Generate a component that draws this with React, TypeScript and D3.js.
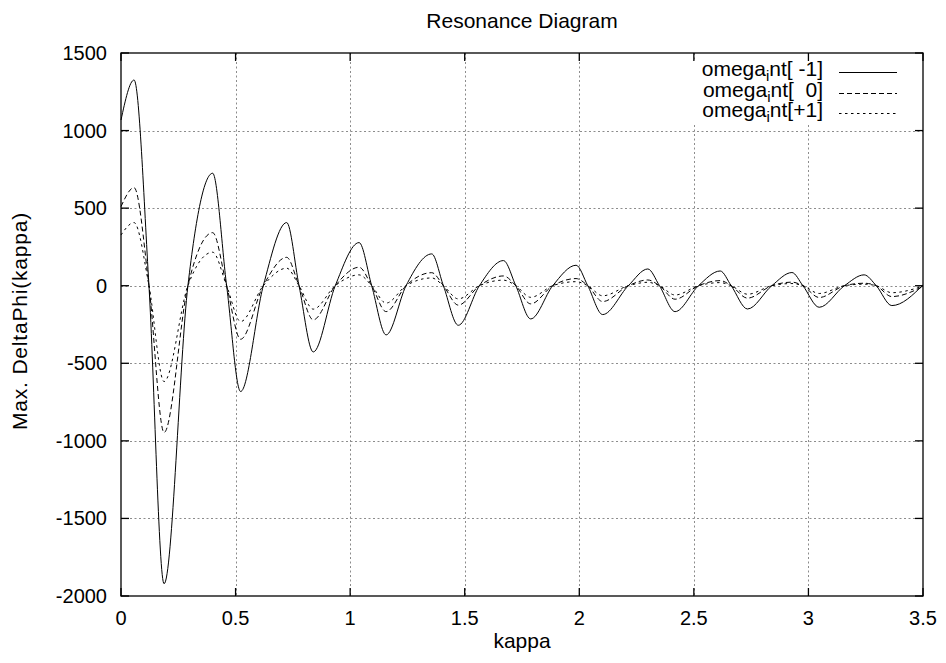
import React, { Component } from "react";
import * as d3 from "d3";

// kappa positions (extrema and zero crossings)
const kappa = [
  0, 0.057, 0.122, 0.188, 0.292, 0.4, 0.461, 0.522, 0.621, 0.723, 0.777, 0.839,
  0.935, 1.039, 1.094, 1.157, 1.244, 1.356, 1.407, 1.472, 1.564, 1.669, 1.723,
  1.788, 1.884, 1.986, 2.037, 2.102, 2.214, 2.299, 2.35, 2.418, 2.52, 2.615,
  2.663, 2.734, 2.84, 2.928, 2.976, 3.047, 3.157, 3.243, 3.296, 3.364, 3.5,
];

const omegaMinus1 = [
  1068, 1326, 0, -1921, 0, 725, 0, -682, 0, 407, 0, -427, 0, 278, 0, -317, 0,
  205, 0, -255, 0, 162, 0, -214, 0, 132, 0, -186, 0, 108, 0, -167, 0, 95, 0,
  -150, 0, 85, 0, -139, 0, 70, 0, -128, 5,
];

const omegaZero = [
  510, 632, 0, -946, 0, 342, 0, -345, 0, 183, 0, -220, 0, 119, 0, -167, 0, 84,
  0, -125, 0, 63, 0, -117, 0, 46, 0, -102, 0, 37, 0, -87, 0, 33, 0, -80, 0, 23,
  0, -76, 0, 16, 0, -70, -5,
];

const omegaPlus1 = [
  327, 407, 0, -618, 0, 216, 0, -231, 0, 113, 0, -151, 0, 70, 0, -112, 0, 50,
  0, -85, 0, 36, 0, -75, 0, 26, 0, -65, 0, 22, 0, -60, 0, 20, 0, -55, 0, 14, 0,
  -50, 0, 10, 0, -45, -3,
];

const xTicks = [0, 0.5, 1, 1.5, 2, 2.5, 3, 3.5];
const yTicks = [-2000, -1500, -1000, -500, 0, 500, 1000, 1500];
const legendSuffix = ["nt[ -1]", "nt[  0]", "nt[+1]"];
const dashes = ["none", "5,3", "2.5,3.5"];

class App extends Component {
  constructor(props) {
    super(props);
    this.node = null;
    this.drawChart = this.drawChart.bind(this);
  }

  componentDidMount() {
    this.drawChart();
  }

  drawChart() {
    const left = 121, right = 923, top = 53, bottom = 596;
    const font = "'Liberation Sans', Arial, Helvetica, sans-serif";

    const svg = d3.select(this.node);
    svg.selectAll("*").remove();

    const x = d3.scaleLinear().domain([0, 3.5]).range([left, right]);
    const y = d3.scaleLinear().domain([-2000, 1500]).range([bottom, top]);

    // grid
    const grid = svg.append("g")
      .attr("stroke", "#8c8c8c")
      .attr("stroke-width", 1)
      .attr("stroke-dasharray", "2,2.5");
    grid.selectAll(".gx")
      .data(xTicks.slice(1, -1))
      .enter()
      .append("line")
      .attr("x1", (d) => Math.round(x(d)) + 0.5)
      .attr("x2", (d) => Math.round(x(d)) + 0.5)
      .attr("y1", top)
      .attr("y2", bottom);
    grid.selectAll(".gy")
      .data(yTicks.slice(1, -1))
      .enter()
      .append("line")
      .attr("x1", left)
      .attr("x2", right)
      .attr("y1", (d) => Math.round(y(d)) + 0.5)
      .attr("y2", (d) => Math.round(y(d)) + 0.5);

    // key area is cleared
    svg.append("rect")
      .attr("x", 688)
      .attr("y", top + 8)
      .attr("width", right - 688 - 1)
      .attr("height", 64)
      .attr("fill", "#fff");

    // curves
    const series = [omegaMinus1, omegaZero, omegaPlus1];
    const line = d3.line()
      .x((d) => x(d[0]))
      .y((d) => y(d[1]))
      .curve(d3.curveMonotoneX);

    series.forEach((vals, i) => {
      svg.append("path")
        .datum(kappa.map((k, j) => [k, vals[j]]))
        .attr("d", line)
        .attr("fill", "none")
        .attr("stroke", "#000")
        .attr("stroke-width", 1)
        .attr("stroke-dasharray", dashes[i]);
    });

    // border + ticks
    svg.append("rect")
      .attr("x", left)
      .attr("y", top)
      .attr("width", right - left)
      .attr("height", bottom - top)
      .attr("fill", "none")
      .attr("stroke", "#000")
      .attr("stroke-width", 1.3);

    const ticks = svg.append("g").attr("stroke", "#000").attr("stroke-width", 1.3);
    xTicks.forEach((t) => {
      ticks.append("line").attr("x1", x(t)).attr("x2", x(t)).attr("y1", bottom).attr("y2", bottom - 8);
      ticks.append("line").attr("x1", x(t)).attr("x2", x(t)).attr("y1", top).attr("y2", top + 8);
    });
    yTicks.forEach((t) => {
      ticks.append("line").attr("x1", left).attr("x2", left + 8).attr("y1", y(t)).attr("y2", y(t));
      ticks.append("line").attr("x1", right).attr("x2", right - 8).attr("y1", y(t)).attr("y2", y(t));
    });

    // tick labels
    svg.append("g")
      .selectAll("text")
      .data(xTicks)
      .enter()
      .append("text")
      .attr("x", (d) => x(d))
      .attr("y", 625)
      .attr("text-anchor", "middle")
      .attr("font-family", font)
      .attr("font-size", 20)
      .text((d) => String(d));

    svg.append("g")
      .selectAll("text")
      .data(yTicks)
      .enter()
      .append("text")
      .attr("x", 107)
      .attr("y", (d) => y(d) + 7)
      .attr("text-anchor", "end")
      .attr("font-family", font)
      .attr("font-size", 20)
      .text((d) => String(d));

    // titles
    svg.append("text")
      .attr("x", (left + right) / 2)
      .attr("y", 28)
      .attr("text-anchor", "middle")
      .attr("font-family", font)
      .attr("font-size", 21)
      .text("Resonance Diagram");

    svg.append("text")
      .attr("x", (left + right) / 2)
      .attr("y", 648)
      .attr("text-anchor", "middle")
      .attr("font-family", font)
      .attr("font-size", 21)
      .text("kappa");

    svg.append("text")
      .attr("transform", "translate(27,321)rotate(-90)")
      .attr("text-anchor", "middle")
      .attr("font-family", font)
      .attr("font-size", 21)
      .attr("letter-spacing", 0.8)
      .text("Max. DeltaPhi(kappa)");

    // legend
    const rowY = [72, 93, 113];
    legendSuffix.forEach((s, i) => {
      const t = svg.append("text")
        .attr("x", 823)
        .attr("y", rowY[i] + 4)
        .attr("text-anchor", "end")
        .attr("font-family", font)
        .attr("font-size", 21)
        .style("white-space", "pre");
      t.append("tspan").text("omega");
      t.append("tspan").attr("dy", 5).attr("font-size", 15).text("i");
      t.append("tspan").attr("dy", -5).text(s);

      svg.append("line")
        .attr("x1", 839)
        .attr("x2", 897)
        .attr("y1", rowY[i] + 0.5)
        .attr("y2", rowY[i] + 0.5)
        .attr("stroke", "#000")
        .attr("stroke-width", 1)
        .attr("stroke-dasharray", dashes[i]);
    });
  }

  render() {
    return (
      <svg
        ref={(n) => (this.node = n)}
        width={946}
        height={663}
        style={{ position: "absolute", left: 0, top: 0, display: "block", background: "#fff" }}
      />
    );
  }
}

export default App;
